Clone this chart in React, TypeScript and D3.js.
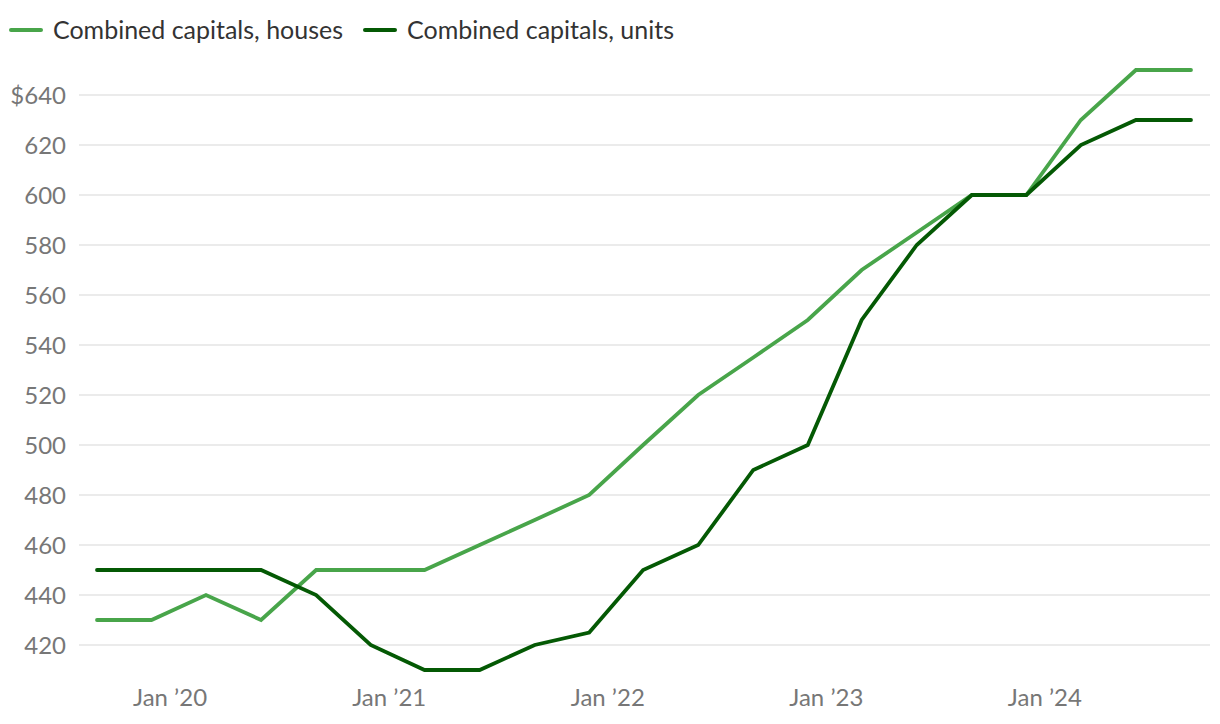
import React from "react";
import * as d3 from "d3";

const dates = [
  "2019-09", "2019-12", "2020-03", "2020-06", "2020-09", "2020-12", "2021-03",
  "2021-06", "2021-09", "2021-12", "2022-03", "2022-06", "2022-09", "2022-12",
  "2023-03", "2023-06", "2023-09", "2023-12", "2024-03", "2024-06", "2024-09",
];
const houses = [430, 430, 440, 430, 450, 450, 450, 460, 470, 480, 500, 520, 535, 550, 570, 585, 600, 600, 630, 650, 650];
const units = [450, 450, 450, 450, 440, 420, 410, 410, 420, 425, 450, 460, 490, 500, 550, 580, 600, 600, 620, 630, 630];
const yTicks = [420, 440, 460, 480, 500, 520, 540, 560, 580, 600, 620, 640];
const xTicks = ["2020-01", "2021-01", "2022-01", "2023-01", "2024-01"];
const seriesNames = ["Combined capitals, houses", "Combined capitals, units"];
const colors = ["#48a54a", "#045904"];

const parse = d3.timeParse("%Y-%m");

export default function App() {
  const W = 1220, H = 724;
  const x = d3.scaleTime()
    .domain([parse(dates[0])!, parse(dates[dates.length - 1])!])
    .range([97, 1191]);
  const y = d3.scaleLinear().domain([410, 650]).range([670, 70]);
  const line = d3.line<number>()
    .x((_, i) => x(parse(dates[i])!))
    .y((d) => y(d));
  const font = "Lato, 'Open Sans', sans-serif";
  const fmtTick = (v: number, i: number) => (i === yTicks.length - 1 ? `$${v}` : `${v}`);
  const fmtX = d3.timeFormat("Jan \u2019%y");
  const series = [houses, units];
  const legendX = [10, 364];
  const legendW = [290, 267];
  return (
    <svg width={W} height={H} style={{ position: "absolute", left: 0, top: 0, background: "#fff" }}>
      {yTicks.map((t, i) => (
        <g key={t}>
          <line x1={79} x2={1210} y1={y(t)} y2={y(t)} stroke="#e4e4e4" strokeWidth={1.5} />
          <text x={66} y={y(t)} dy="0.36em" textAnchor="end" fontFamily={font} fontSize={24} fill="#777">
            {fmtTick(t, i)}
          </text>
        </g>
      ))}
      {xTicks.map((t) => (
        <text key={t} x={x(parse(t)!)} y={706} textAnchor="middle" fontFamily={font} fontSize={24} fill="#777">
          {fmtX(parse(t)!)}
        </text>
      ))}
      {series.map((s, i) => (
        <path key={i} d={line(s) || ""} fill="none" stroke={colors[i]} strokeWidth={3.8} strokeLinejoin="miter" strokeLinecap="round" />
      ))}
      {seriesNames.map((n, i) => (
        <g key={n}>
          <line x1={legendX[i] + 1} x2={legendX[i] + 31} y1={30} y2={30} stroke={colors[i]} strokeWidth={4} strokeLinecap="round" />
          <text x={legendX[i] + 43} y={30} dy="0.36em" fontFamily={font} fontSize={25} fill="#333"
            textLength={legendW[i]} lengthAdjust="spacingAndGlyphs">
            {n}
          </text>
        </g>
      ))}
    </svg>
  );
}
